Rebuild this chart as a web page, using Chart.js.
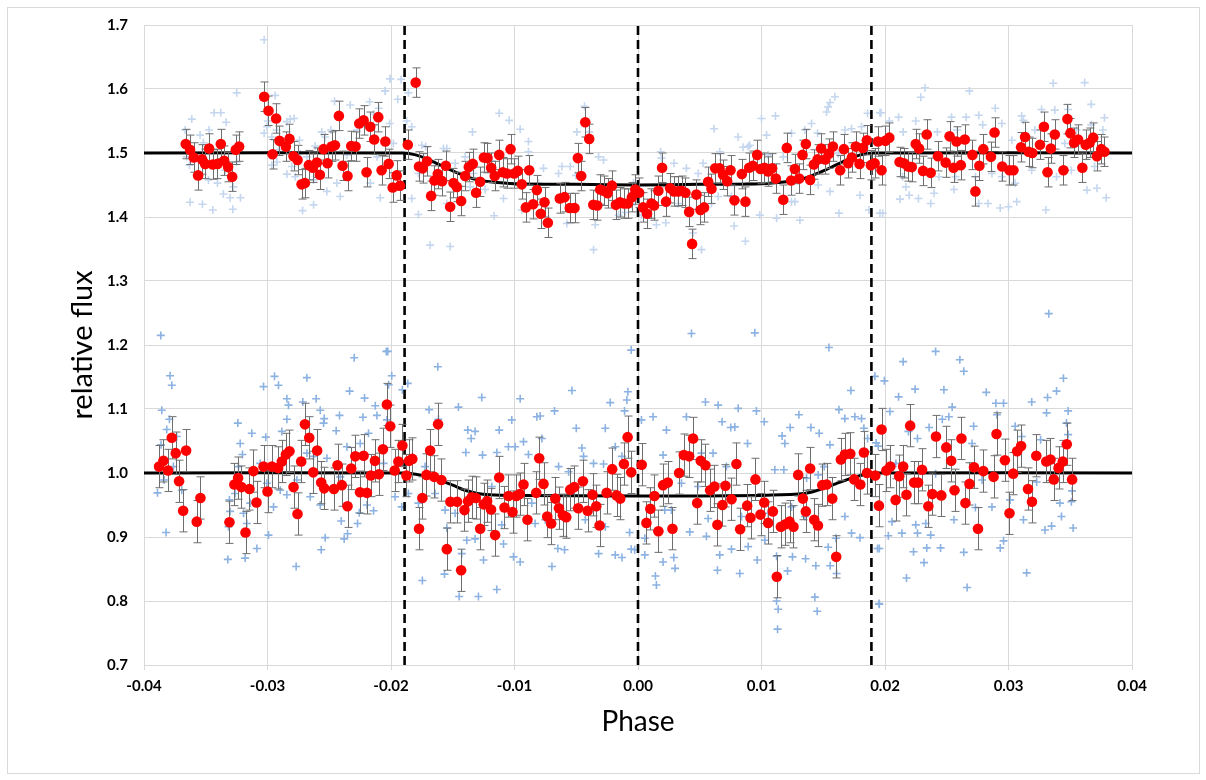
<!DOCTYPE html>
<html><head><meta charset="utf-8">
<script src="https://cdn.jsdelivr.net/npm/chart.js@4.4.1/dist/chart.umd.min.js"></script>
<style>
html,body{margin:0;padding:0;background:#fff;width:1206px;height:780px;overflow:hidden}
#frame{position:absolute;left:7px;top:7px;width:1191px;height:765px;border:1px solid #d9d9d9}
canvas{position:absolute;left:0;top:0}
</style></head><body>
<div id="frame"></div>
<canvas id="c" width="1206" height="780"></canvas>
<script>
// ---- axes ----
const xTicks = [-0.04,-0.03,-0.02,-0.01,0.00,0.01,0.02,0.03,0.04];
const yTicks = [0.7,0.8,0.9,1.0,1.1,1.2,1.3,1.4,1.5,1.6,1.7];
const contactPhases = [-0.0189, 0.0, 0.0189];

// ---- upper light curve: raw points (phase, flux) ----
const upperRaw = [
[-0.03027,1.677],[-0.03249,1.594],[-0.03432,1.563],[-0.03378,1.563],[-0.03335,1.548],[-0.03613,1.553],[-0.03667,1.536],[-0.03473,1.536],[-0.03519,1.516],[-0.03546,1.528],
[-0.03627,1.423],[-0.03527,1.420],[-0.03443,1.411],[-0.03281,1.412],[-0.03219,1.430],[-0.03303,1.430],[-0.03357,1.436],[-0.03405,1.453],[-0.03478,1.458],[-0.03632,1.481],
[-0.03654,1.494],[-0.03343,1.473],[-0.03276,1.447],[-0.03249,1.486],[-0.02938,1.590],[-0.03005,1.541],[-0.03027,1.531],[-0.02997,1.550],[-0.02965,1.525],[-0.02924,1.536],
[-0.02843,1.549],[-0.02816,1.553],[-0.02784,1.554],[-0.02741,1.520],[-0.02843,1.467],[-0.02803,1.479],[-0.02776,1.463],[-0.02716,1.410],[-0.02627,1.419],[-0.02519,1.440],
[-0.02411,1.432],[-0.02438,1.453],[-0.02457,1.581],[-0.02330,1.575],[-0.02173,1.580],[-0.02100,1.570],[-0.02046,1.597],[-0.02006,1.616],[-0.02560,1.533],[-0.02487,1.536],
[-0.02533,1.525],[-0.02168,1.453],[-0.02087,1.430],[-0.02276,1.536],[-0.02141,1.544],[-0.02114,1.494],[-0.02357,1.497],[-0.02681,1.494],[-0.02627,1.458],[-0.02965,1.481],
[-0.02924,1.486],[-0.02911,1.505],[-0.02614,1.511],[-0.02735,1.499],[-0.02141,1.561],[-0.02011,1.546],
[-0.02008,1.616],[-0.01918,1.615],[-0.01945,1.584],[-0.01859,1.594],[-0.01873,1.550],[-0.01832,1.541],[-0.02048,1.597],[-0.01981,1.515],[-0.01778,1.404],[-0.01832,1.429],
[-0.01683,1.356],[-0.01521,1.354],[-0.01751,1.512],[-0.01719,1.510],[-0.01575,1.507],[-0.01548,1.507],[-0.01340,1.533],[-0.01124,1.562],[-0.01043,1.551],[-0.00954,1.537],
[-0.00887,1.518],[-0.00887,1.502],[-0.01165,1.402],[-0.01089,1.429],[-0.01238,1.443],[-0.01332,1.468],[-0.01400,1.494],[-0.01184,1.488],[-0.01481,1.484],[-0.00765,1.476],
[-0.00643,1.468],[-0.00616,1.479],[-0.00549,1.479],[-0.00495,1.533],[-0.00433,1.573],[-0.00395,1.533],[-0.00503,1.465],[-0.00319,1.494],[-0.00279,1.489],[-0.00360,1.349],
[-0.00346,1.388],[-0.00576,1.390],[-0.00157,1.403],[-0.00103,1.407],[-0.00036,1.453],[-0.00049,1.419],[-0.00806,1.453],[-0.00941,1.411],[-0.01643,1.484],[-0.01778,1.468],
[-0.01359,1.447],[-0.01548,1.421],
[0.00184,1.502],[0.00190,1.492],[0.00292,1.484],[0.00392,1.476],[0.00527,1.484],[0.00616,1.538],[0.00662,1.502],[0.00811,1.525],[0.00851,1.509],[0.00892,1.510],
[0.00905,1.512],[0.01000,1.554],[0.01041,1.528],[0.01113,1.558],[0.01054,1.497],[0.00986,1.403],[0.00870,1.362],[0.00778,1.386],[0.00433,1.359],[0.00446,1.375],
[0.00514,1.349],[0.00225,1.391],[0.00149,1.388],[0.00028,1.403],[0.01405,1.546],[0.01527,1.564],[0.01554,1.579],[0.01594,1.588],[0.01540,1.572],[0.01243,1.531],
[0.01351,1.536],[0.01454,1.531],[0.01675,1.536],[0.01729,1.538],[0.01810,1.541],[0.01859,1.562],[0.01959,1.563],[0.01797,1.434],[0.01870,1.411],[0.01959,1.406],
[0.01627,1.406],[0.01311,1.395],[0.01122,1.398],[0.01243,1.424],[0.01270,1.424],[0.01554,1.440],[0.00649,1.432],[0.00595,1.421],[0.00325,1.421],[0.01459,1.450],
[0.01621,1.499],[0.01837,1.510],[0.01176,1.494],[0.00757,1.432],[0.00487,1.468],
[0.01968,1.563],[0.02035,1.550],[0.02110,1.556],[0.02249,1.550],[0.02290,1.587],[0.02324,1.602],[0.02147,1.533],[0.02424,1.533],[0.02539,1.556],[0.02584,1.536],
[0.02657,1.556],[0.02684,1.597],[0.02759,1.559],[0.02791,1.544],[0.02893,1.570],[0.02946,1.546],[0.03027,1.520],[0.03107,1.558],[0.03268,1.568],[0.03362,1.609],
[0.03375,1.567],[0.03483,1.568],[0.03617,1.610],[0.03670,1.576],[0.03777,1.555],[0.03764,1.536],[0.03670,1.544],[0.03550,1.536],[0.03456,1.515],[0.03214,1.536],
[0.03121,1.551],[0.01981,1.406],[0.02121,1.428],[0.02196,1.434],[0.02271,1.429],[0.02370,1.421],[0.02397,1.437],[0.02558,1.443],[0.02759,1.421],[0.02834,1.421],
[0.02933,1.414],[0.03000,1.416],[0.03067,1.424],[0.03303,1.411],[0.03389,1.463],[0.03635,1.442],[0.03716,1.445],[0.03791,1.430],[0.03188,1.473],[0.03054,1.453],
[0.02946,1.463],[0.02732,1.463],[0.02571,1.463],[0.02437,1.463],[0.02169,1.447],[0.02142,1.463],[0.02866,1.468],[0.03509,1.473],[0.03697,1.479]
];

// ---- upper light curve: binned points (phase, flux) ----
const upperBinned = [
[-0.03662,1.514],[-0.03627,1.505],[-0.03597,1.493],[-0.03562,1.465],[-0.03529,1.490],[-0.03505,1.483],[-0.03473,1.507],[-0.03443,1.482],[-0.03405,1.483],[-0.03378,1.514],
[-0.03351,1.488],[-0.03319,1.478],[-0.03286,1.463],[-0.03257,1.505],[-0.03230,1.510],[-0.03027,1.588],[-0.02992,1.566],[-0.02959,1.498],[-0.02930,1.554],[-0.02903,1.519],
[-0.02851,1.510],[-0.02822,1.522],[-0.02789,1.495],[-0.02757,1.489],[-0.02724,1.451],[-0.02697,1.453],[-0.02665,1.481],[-0.02633,1.477],[-0.02600,1.485],[-0.02576,1.466],
[-0.02546,1.506],[-0.02514,1.484],[-0.02481,1.510],[-0.02454,1.512],[-0.02422,1.558],[-0.02392,1.480],[-0.02352,1.464],[-0.02322,1.511],[-0.02287,1.510],[-0.02257,1.546],
[-0.02222,1.551],[-0.02198,1.470],[-0.02168,1.541],[-0.02136,1.521],[-0.02103,1.556],[-0.02076,1.473],[-0.02046,1.518],[-0.02019,1.483],
[-0.01986,1.446],[-0.01954,1.465],[-0.01927,1.449],[-0.01864,1.513],[-0.01800,1.610],[-0.01773,1.479],[-0.01743,1.476],[-0.01708,1.487],[-0.01675,1.433],[-0.01648,1.457],
[-0.01621,1.467],[-0.01586,1.456],[-0.01556,1.480],[-0.01521,1.416],[-0.01494,1.453],[-0.01467,1.447],[-0.01432,1.425],[-0.01400,1.464],[-0.01370,1.478],[-0.01338,1.483],
[-0.01311,1.438],[-0.01278,1.455],[-0.01248,1.493],[-0.01219,1.492],[-0.01189,1.477],[-0.01160,1.464],[-0.01124,1.497],[-0.01095,1.470],[-0.01062,1.468],[-0.01032,1.506],
[-0.01003,1.468],[-0.00973,1.472],[-0.00941,1.451],[-0.00908,1.415],[-0.00881,1.473],[-0.00849,1.420],[-0.00819,1.442],[-0.00787,1.405],[-0.00757,1.423],[-0.00730,1.391],
[-0.00633,1.429],[-0.00595,1.431],[-0.00552,1.414],[-0.00514,1.414],[-0.00487,1.492],[-0.00460,1.464],[-0.00427,1.548],[-0.00395,1.522],[-0.00362,1.419],[-0.00330,1.418],
[-0.00306,1.443],[-0.00279,1.441],[-0.00246,1.437],[-0.00211,1.449],[-0.00179,1.419],[-0.00146,1.423],[-0.00114,1.421],[-0.00082,1.421],[-0.00049,1.431],[-0.00022,1.443],
[0.00009,1.438],[0.00041,1.415],[0.00073,1.405],[0.00109,1.421],[0.00130,1.418],[0.00165,1.441],[0.00195,1.477],[0.00227,1.424],[0.00260,1.445],[0.00292,1.440],
[0.00325,1.440],[0.00354,1.441],[0.00384,1.438],[0.00414,1.408],[0.00438,1.358],[0.00473,1.435],[0.00506,1.411],[0.00535,1.415],[0.00568,1.455],[0.00595,1.444],
[0.00625,1.476],[0.00660,1.476],[0.00689,1.466],[0.00722,1.456],[0.00749,1.473],[0.00781,1.426],[0.00841,1.467],[0.00870,1.424],[0.00900,1.477],[0.00930,1.480],
[0.00965,1.497],[0.00992,1.475],[0.01024,1.477],[0.01054,1.471],[0.01086,1.476],[0.01116,1.460],[0.01176,1.427],[0.01205,1.508],[0.01240,1.457],[0.01270,1.475],
[0.01305,1.460],[0.01332,1.497],[0.01359,1.514],[0.01394,1.458],[0.01424,1.482],[0.01454,1.490],[0.01483,1.507],[0.01516,1.490],[0.01546,1.499],[0.01578,1.510],
[0.01637,1.473],[0.01667,1.506],[0.01702,1.484],[0.01732,1.493],[0.01764,1.510],[0.01794,1.483],[0.01821,1.508],[0.01853,1.520],[0.01886,1.481],[0.01916,1.484],
[0.01943,1.518],[0.01972,1.473],
[0.02003,1.519],[0.02035,1.524],[0.02118,1.486],[0.02153,1.484],[0.02188,1.479],[0.02217,1.478],[0.02249,1.514],[0.02276,1.507],[0.02308,1.472],[0.02338,1.529],
[0.02370,1.469],[0.02429,1.495],[0.02491,1.485],[0.02523,1.526],[0.02555,1.477],[0.02579,1.518],[0.02614,1.481],[0.02646,1.521],[0.02708,1.497],[0.02732,1.440],
[0.02764,1.480],[0.02796,1.506],[0.02858,1.494],[0.02887,1.532],[0.02949,1.479],[0.03008,1.473],[0.03040,1.473],[0.03102,1.509],[0.03134,1.525],[0.03163,1.502],
[0.03193,1.500],[0.03255,1.513],[0.03287,1.541],[0.03316,1.470],[0.03343,1.507],[0.03375,1.529],[0.03445,1.473],[0.03477,1.553],[0.03501,1.531],[0.03531,1.516],
[0.03563,1.521],[0.03598,1.477],[0.03625,1.513],[0.03657,1.516],[0.03686,1.524],[0.03716,1.495],[0.03751,1.506],[0.03777,1.502]
];
const upperError = 0.023;

// ---- lower light curve: raw points ----
const lowerRaw = [
[-0.03864,1.215],[-0.03789,1.152],[-0.03775,1.137],[-0.03856,1.098],[-0.03794,1.084],[-0.03816,1.068],[-0.03862,1.044],[-0.03735,1.057],[-0.03694,0.973],[-0.03891,0.969],
[-0.03821,0.907],[-0.03837,0.989],[-0.03762,1.010],[-0.03240,1.078],[-0.03221,1.046],[-0.03203,1.029],[-0.03127,1.062],[-0.03235,1.010],[-0.03262,0.968],[-0.03303,0.940],
[-0.03316,0.916],[-0.03321,0.865],[-0.03181,0.867],[-0.03086,0.882],[-0.03167,0.921],[-0.03194,0.937],[-0.03032,1.135],[-0.02943,1.151],[-0.02911,1.137],[-0.02843,1.116],
[-0.02830,1.106],[-0.02843,1.084],[-0.02884,1.065],[-0.03014,1.056],[-0.02681,1.149],[-0.02714,1.111],[-0.02606,1.116],[-0.02573,1.098],[-0.02541,1.085],[-0.02546,1.078],
[-0.02417,1.090],[-0.02444,1.066],[-0.02335,1.128],[-0.02298,1.180],[-0.02214,1.117],[-0.02227,1.087],[-0.02127,1.105],[-0.02114,1.090],[-0.02038,1.190],[-0.02019,1.138],
[-0.02033,1.083],[-0.02182,1.062],[-0.02249,1.046],[-0.02992,0.903],[-0.02768,0.854],[-0.02565,0.880],[-0.02533,0.899],[-0.02379,0.897],[-0.02352,0.905],[-0.02403,0.925],
[-0.02271,0.921],[-0.02257,0.938],[-0.02195,0.950],[-0.02141,0.941],[-0.02573,0.950],[-0.02654,0.963],[-0.02951,0.947],[-0.03005,0.984],[-0.02897,0.973],[-0.02843,0.966],
[-0.02762,0.989],[-0.02519,1.023],[-0.02357,1.041],[-0.02060,1.015],[-0.03308,0.958],[-0.03140,0.953],[-0.03059,1.015],[-0.02681,1.031],[-0.02627,1.026],[-0.02411,0.994],
[-0.02026,1.190],[-0.01994,1.152],[-0.01864,1.140],[-0.01908,1.130],[-0.01621,1.166],[-0.01692,1.099],[-0.01616,1.084],[-0.01454,1.103],[-0.01265,1.118],[-0.01378,1.067],
[-0.01319,1.065],[-0.01351,1.054],[-0.01124,1.067],[-0.00954,1.116],[-0.01022,1.083],[-0.00819,1.088],[-0.00792,1.089],[-0.00676,1.097],[-0.00535,1.129],[-0.00500,1.070],
[-0.00265,1.070],[-0.00225,1.110],[-0.00082,1.127],[-0.00090,1.114],[-0.00109,1.097],[-0.00055,1.192],[-0.00184,1.041],[-0.00130,1.026],[-0.01394,1.032],[-0.01259,1.028],
[-0.01143,1.032],[-0.01049,1.041],[-0.00995,1.041],[-0.00927,1.049],[-0.00887,1.029],[-0.00778,1.054],[-0.00454,1.039],[-0.00441,1.026],[-0.00360,1.015],[-0.00279,1.014],
[-0.00643,1.010],[-0.00562,1.002],[-0.01778,0.953],[-0.01562,0.942],[-0.01481,0.937],[-0.01548,0.914],[-0.01567,0.842],[-0.01746,0.832],[-0.01448,0.807],[-0.01292,0.807],
[-0.01143,0.818],[-0.01427,0.874],[-0.01386,0.895],[-0.01319,0.897],[-0.01251,0.864],[-0.01089,0.889],[-0.01008,0.869],[-0.00954,0.861],[-0.00649,0.882],[-0.00595,0.880],
[-0.00697,0.854],[-0.00319,0.874],[-0.00184,0.872],[-0.00130,0.868],[-0.00068,0.907],[-0.00055,0.881],[-0.00265,0.916],[-0.00427,0.927],[-0.00833,0.921],[-0.00751,0.927],
[-0.01103,0.919],[-0.01643,0.968],[-0.01913,0.947],[-0.01967,0.963],[-0.01859,0.968],[-0.01724,1.010],[-0.01184,0.979],[-0.00860,0.953],
[0.00028,1.083],[0.00122,1.088],[0.00230,1.067],[0.00433,1.218],[0.00946,1.219],[0.01546,1.196],[0.00392,1.088],[0.00546,1.111],[0.00649,1.106],
[0.00681,1.080],[0.00751,1.071],[0.00784,1.072],[0.00811,1.101],[0.00959,1.097],[0.01022,1.080],[0.00887,1.046],[0.01167,1.058],[0.01189,1.046],[0.01232,1.071],
[0.01303,1.091],[0.01400,1.071],[0.01467,1.062],[0.01554,1.044],[0.01627,1.099],[0.01724,1.129],[0.01675,1.085],[0.01756,1.088],[0.01810,1.085],[0.01829,1.070],
[0.01859,1.054],[0.01918,1.151],[0.01945,1.042],[0.00203,1.028],[0.00514,1.031],[0.00608,1.031],[0.00716,1.010],[0.01108,1.005],[0.01181,1.005],[0.01365,0.992],
[0.01459,0.997],[0.01508,1.010],[0.00055,0.872],[0.00141,0.839],[0.00149,0.825],[0.00203,0.861],[0.00290,0.868],[0.00300,0.851],[0.00643,0.848],[0.00824,0.843],
[0.00965,0.864],[0.01122,0.870],[0.01211,0.847],[0.01251,0.869],[0.01357,0.866],[0.01440,0.855],[0.01556,0.855],[0.01608,0.843],[0.01432,0.806],[0.01451,0.784],
[0.01122,0.800],[0.01135,0.787],[0.01130,0.756],[0.01951,0.796],[0.01940,0.882],[0.01729,0.906],[0.01797,0.899],[0.01540,0.884],[0.01602,0.898],[0.00757,0.881],
[0.00662,0.872],[0.00554,0.901],[0.00419,0.908],[0.00055,0.898],[-0.00027,0.880],[0.00892,0.885],[0.01027,0.895],[0.01054,0.937],[0.01243,0.947],[0.00271,0.942],
[0.00217,0.942],[0.00352,0.984],[0.00487,0.979],[0.00568,0.929],[0.00838,0.932],[0.01351,0.932],[0.01675,0.932],
[0.01995,1.144],[0.02147,1.174],[0.02244,1.131],[0.02110,1.119],[0.02410,1.190],[0.02477,1.130],[0.02606,1.177],[0.02638,1.159],[0.02820,1.126],[0.02898,1.109],
[0.02960,1.109],[0.03188,1.111],[0.03316,1.118],[0.03389,1.128],[0.03445,1.148],[0.03308,1.094],[0.03483,1.097],[0.02544,1.103],[0.02517,1.088],[0.02464,1.084],
[0.02357,1.071],[0.02263,1.054],[0.02190,1.065],[0.02718,1.073],[0.02705,1.046],[0.02906,1.091],[0.03054,1.073],[0.03107,1.057],[0.03260,1.052],[0.03469,1.078],
[0.03483,1.060],[0.02040,1.096],[0.01928,1.047],[0.03515,0.972],[0.03509,0.955],[0.03416,0.953],[0.03429,0.932],[0.03523,0.914],[0.03295,0.911],[0.03349,0.917],
[0.03121,0.927],[0.02960,0.894],[0.02933,0.883],[0.03147,0.844],[0.02665,0.821],[0.02638,0.876],[0.02558,0.927],[0.02450,0.883],[0.02338,0.883],[0.02316,0.860],
[0.02174,0.836],[0.02231,0.877],[0.02263,0.906],[0.02137,0.906],[0.02056,0.924],[0.02027,0.902],[0.01954,0.882],[0.01954,0.795],[0.02249,0.919],[0.02330,0.921],
[0.02370,0.903],[0.02732,0.946],[0.02866,0.947],[0.03013,0.958],[0.03228,0.986],[0.02786,0.989],[0.02410,0.999],[0.02088,1.015],[0.03326,1.249]
];

// ---- lower light curve: binned points ----
const lowerBinned = [
[-0.03878,1.010],[-0.03843,1.019],[-0.03805,1.004],[-0.03775,1.055],[-0.03743,1.031],[-0.03716,0.987],[-0.03683,0.941],[-0.03659,1.035],[-0.03573,0.924],[-0.03543,0.961],
[-0.03308,0.923],[-0.03268,0.982],[-0.03238,0.992],[-0.03211,0.978],[-0.03178,0.907],[-0.03146,0.975],[-0.03114,1.003],[-0.03089,0.954],[-0.03032,1.010],[-0.03000,0.971],
[-0.02965,1.010],[-0.02914,1.008],[-0.02884,1.018],[-0.02851,1.029],[-0.02822,1.034],[-0.02789,0.978],[-0.02757,0.936],[-0.02727,1.018],[-0.02697,1.076],[-0.02662,1.055],
[-0.02630,1.001],[-0.02598,1.035],[-0.02565,0.985],[-0.02541,0.976],[-0.02462,0.975],[-0.02433,1.012],[-0.02398,0.981],[-0.02352,0.948],[-0.02322,1.007],[-0.02289,1.026],
[-0.02251,0.970],[-0.02222,1.027],[-0.02195,0.969],[-0.02163,0.996],[-0.02130,1.019],[-0.02098,0.998],[-0.02065,1.037],[-0.02033,1.107],[-0.02006,1.073],
[-0.01970,1.004],[-0.01940,1.018],[-0.01908,1.043],[-0.01875,0.996],[-0.01854,1.019],[-0.01827,1.022],[-0.01773,0.913],[-0.01746,0.961],[-0.01713,0.997],[-0.01683,1.035],
[-0.01651,0.994],[-0.01619,1.076],[-0.01592,0.989],[-0.01548,0.881],[-0.01519,0.955],[-0.01465,0.955],[-0.01432,0.848],[-0.01405,0.942],[-0.01376,0.956],[-0.01346,0.962],
[-0.01313,0.961],[-0.01278,0.913],[-0.01249,0.951],[-0.01222,0.956],[-0.01190,0.943],[-0.01157,0.903],[-0.01124,0.993],[-0.01081,0.946],[-0.01049,0.964],[-0.01016,0.939],
[-0.00986,0.964],[-0.00957,0.967],[-0.00927,0.982],[-0.00895,0.927],[-0.00824,0.969],[-0.00800,1.023],[-0.00765,0.983],[-0.00735,0.932],[-0.00703,0.921],[-0.00670,0.960],
[-0.00640,0.945],[-0.00608,0.934],[-0.00581,0.931],[-0.00549,0.974],[-0.00516,0.978],[-0.00484,0.945],[-0.00446,0.987],[-0.00408,0.941],[-0.00368,0.966],[-0.00338,0.948],
[-0.00311,0.918],[-0.00254,0.969],[-0.00209,1.006],[-0.00173,0.965],[-0.00144,0.960],[-0.00114,1.014],[-0.00084,1.056],[-0.00055,1.001],
[0.00030,1.013],[0.00068,0.922],[0.00100,0.944],[0.00133,0.964],[0.00165,0.909],[0.00203,0.981],[0.00241,0.985],[0.00279,0.913],[0.00333,1.000],[0.00371,1.028],
[0.00414,1.026],[0.00446,1.054],[0.00479,0.953],[0.00508,1.019],[0.00546,1.012],[0.00584,0.973],[0.00619,0.979],[0.00643,0.919],[0.00684,0.950],[0.00708,0.980],
[0.00757,0.959],[0.00797,1.014],[0.00827,0.912],[0.00884,0.949],[0.00911,0.930],[0.00951,0.990],[0.00992,0.935],[0.01022,0.954],[0.01054,0.922],[0.01092,0.940],
[0.01124,0.838],[0.01157,0.916],[0.01194,0.920],[0.01227,0.924],[0.01259,0.916],[0.01297,0.997],[0.01335,0.960],[0.01359,0.940],[0.01394,1.007],[0.01427,0.927],
[0.01457,0.918],[0.01492,0.981],[0.01527,0.982],[0.01573,0.960],[0.01605,0.869],[0.01643,1.021],[0.01675,1.029],[0.01719,1.030],[0.01751,0.990],[0.01800,0.982],
[0.01829,1.032],[0.01854,1.000],[0.01921,0.996],[0.01951,0.949],[0.01972,1.068],
[0.02011,1.004],[0.02043,1.010],[0.02086,0.958],[0.02115,0.995],[0.02147,1.010],[0.02174,0.966],[0.02204,1.074],[0.02236,0.985],[0.02268,0.985],[0.02300,1.005],
[0.02351,0.948],[0.02383,0.967],[0.02413,1.057],[0.02456,0.965],[0.02496,1.040],[0.02536,1.019],[0.02563,0.973],[0.02619,1.054],[0.02651,0.953],[0.02684,0.983],
[0.02721,1.009],[0.02753,0.913],[0.02796,1.003],[0.02879,0.994],[0.02903,1.061],[0.02971,1.020],[0.03008,0.937],[0.03038,0.999],[0.03070,1.034],[0.03102,1.042],
[0.03158,0.975],[0.03190,0.955],[0.03225,1.027],[0.03306,1.018],[0.03340,1.021],[0.03367,0.990],[0.03405,1.008],[0.03440,1.018],[0.03472,1.045],[0.03515,0.990]
];
const lowerError = 0.033;

// ---- transit models ----
const upperModel = [
[-0.04,1.5],[-0.0190,1.5],[-0.0180,1.497],[-0.0170,1.490],[-0.0160,1.481],[-0.0150,1.472],[-0.0140,1.464],[-0.0130,1.458],[-0.0120,1.455],[-0.0100,1.452],
[-0.0050,1.451],[0.0,1.450],[0.0050,1.451],[0.0100,1.452],[0.0120,1.455],[0.0130,1.458],[0.0140,1.464],[0.0150,1.472],[0.0160,1.481],[0.0170,1.490],
[0.0180,1.497],[0.0190,1.5],[0.04,1.5]
];
const lowerModel = [
[-0.04,1.0],[-0.0190,1.0],[-0.0180,0.998],[-0.0170,0.994],[-0.0160,0.988],[-0.0150,0.981],[-0.0140,0.973],[-0.0130,0.968],[-0.0120,0.966],[-0.0100,0.965],
[0.0,0.964],[0.0100,0.965],[0.0130,0.967],[0.0140,0.970],[0.0150,0.976],[0.0160,0.983],[0.0170,0.990],[0.0180,0.996],[0.0190,1.0],[0.04,1.0]
];

const toXY = a => a.map(p => ({x:p[0], y:p[1]}));
const FONT = 'Lato, "Open Sans", sans-serif';

const datasets = [];
datasets.push({label:'upperRaw', data: toXY(upperRaw), pointStyle:'cross', pointRadius:4, borderColor:'#c5d7ef', backgroundColor:'#c5d7ef', borderWidth:1.6, order:9});
datasets.push({label:'lowerRaw', data: toXY(lowerRaw), pointStyle:'cross', pointRadius:4, borderColor:'#8cb2e2', backgroundColor:'#8cb2e2', borderWidth:1.6, order:8});
contactPhases.forEach((c,i)=>{
  datasets.push({label:'contact'+i, data:[{x:c,y:yTicks[0]},{x:c,y:yTicks[yTicks.length-1]}], showLine:true, pointRadius:0, borderColor:'#000', borderWidth:2.6, borderDash:[9,5], order:7});
});
datasets.push({label:'upperModel', data: toXY(upperModel), showLine:true, pointRadius:0, borderColor:'#000', borderWidth:3, tension:0.3, order:6});
datasets.push({label:'lowerModel', data: toXY(lowerModel), showLine:true, pointRadius:0, borderColor:'#000', borderWidth:3, tension:0.3, order:5});
datasets.push({label:'upperBinned', data: toXY(upperBinned), pointStyle:'circle', pointRadius:5.3, backgroundColor:'#ff0000', borderWidth:0, err: upperError, order:2});
datasets.push({label:'lowerBinned', data: toXY(lowerBinned), pointStyle:'circle', pointRadius:5.3, backgroundColor:'#ff0000', borderWidth:0, err: lowerError, order:1});

const errorBars = {
  id:'errorBars',
  beforeDatasetDraw(chart, args){
    const ds = chart.data.datasets[args.index];
    if (ds.err === undefined) return;
    const xs = chart.scales.x, ys = chart.scales.y, ctx = chart.ctx;
    ctx.save();
    ctx.strokeStyle = '#6e6e6e';
    ctx.lineWidth = 1;
    ds.data.forEach(p=>{
      const px = Math.round(xs.getPixelForValue(p.x))+0.5;
      const t = ys.getPixelForValue(p.y + ds.err), b = ys.getPixelForValue(p.y - ds.err);
      ctx.beginPath();
      ctx.moveTo(px,t); ctx.lineTo(px,b);
      ctx.moveTo(px-4,t); ctx.lineTo(px+4,t);
      ctx.moveTo(px-4,b); ctx.lineTo(px+4,b);
      ctx.stroke();
    });
    ctx.restore();
  }
};

new Chart(document.getElementById('c'), {
  type:'scatter',
  data:{datasets},
  plugins:[errorBars],
  options:{
    responsive:false, animation:false, devicePixelRatio:1,
    layout:{padding:{left:0, top:24, right:74, bottom:0}},
    plugins:{legend:{display:false}, tooltip:{enabled:false}},
    scales:{
      x:{
        type:'linear', min:xTicks[0], max:xTicks[xTicks.length-1],
        afterBuildTicks(s){ s.ticks = xTicks.map(v=>({value:v})); },
        afterFit(s){ s.height = 115; },
        grid:{color:'#d9d9d9', lineWidth:1, tickLength:5, drawTicks:true},
        border:{color:'#d9d9d9'},
        ticks:{padding:7, color:'#000', font:{family:FONT, size:15, weight:'bold'},
          callback:v=> (Math.abs(v)<1e-9 ? 0 : v).toFixed(2), maxRotation:0},
        title:{display:true, text:'Phase', color:'#000', font:{family:FONT, size:28}, padding:{top:0,bottom:41}}
      },
      y:{
        type:'linear', min:yTicks[0], max:yTicks[yTicks.length-1],
        afterBuildTicks(s){ s.ticks = yTicks.map(v=>({value:v})); },
        afterFit(s){ s.width = 144; },
        grid:{color:'#d9d9d9', lineWidth:1, drawTicks:false},
        border:{color:'#d9d9d9'},
        ticks:{padding:16, color:'#000', font:{family:FONT, size:15, weight:'bold'},
          callback:v=> v.toFixed(1)},
        title:{display:true, text:'relative flux', color:'#000', font:{family:FONT, size:29}, padding:{top:65,bottom:0}}
      }
    }
  }
});
</script>
</body></html>
